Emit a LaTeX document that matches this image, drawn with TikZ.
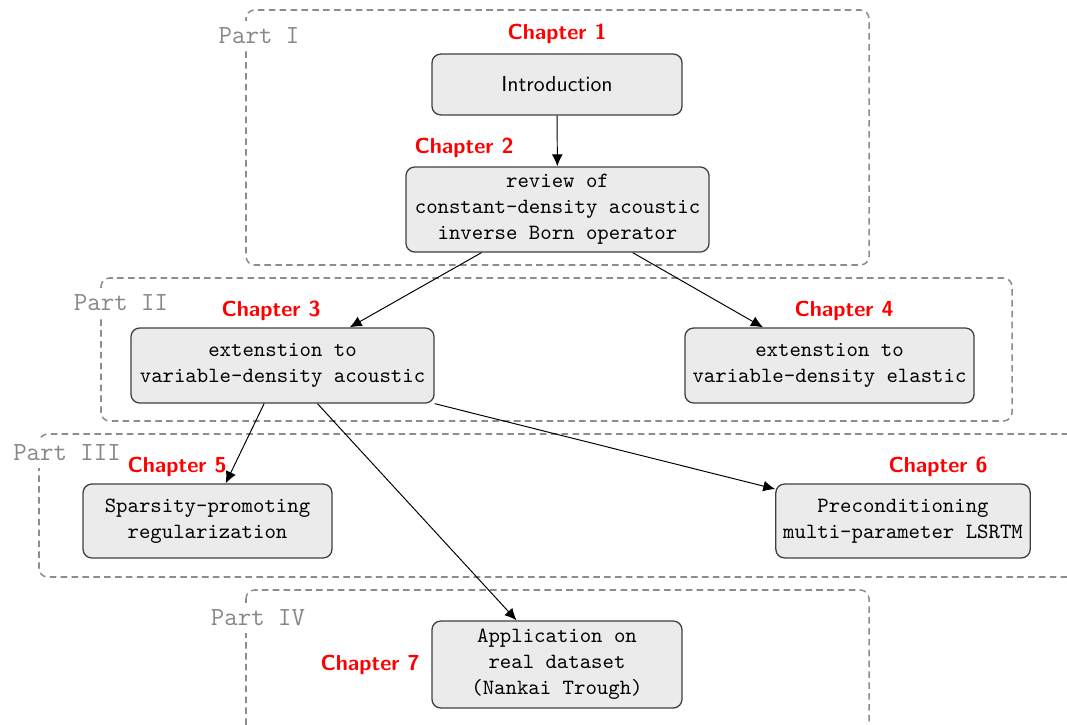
\documentclass[tikz,border=0pt]{standalone}
\usetikzlibrary{arrows.meta}
\begin{document}
\begin{tikzpicture}[x=0.46pt,y=-0.46pt,
 part/.style={draw=black!45, line width=0.7pt, dash pattern=on 3pt off 2pt, rounded corners=4pt},
 partlabel/.style={fill=white, text=black!47, font=\large\ttfamily},
 chap/.style={text=red, font=\sffamily\bfseries, anchor=base},
 box/.style={draw=black!75, line width=0.6pt, fill=black!8, rounded corners=4pt, align=center, font=\ttfamily, inner sep=2pt},
 arr/.style={-{Latex[length=5.5pt,width=5pt]}, line width=0.45pt}]
\useasboundingbox (0,0) rectangle (1067,724);
\clip (0,0) rectangle (1067,724);
% part frames
\draw[part] (246,10) rectangle (869,265);
\draw[part] (101,278) rectangle (1012,421);
\draw[part] (39,434) rectangle (1100,577);
\draw[part] (246,590) rectangle (869,760);
\node[partlabel] (p1) at (259,36) {Part I};
\node[partlabel] (p2) at (121,303) {Part II};
\node[partlabel] (p3) at (67,453) {Part III};
\node[partlabel] (p4) at (258,618) {Part IV};
% chapter nodes
\node[box, font=\sffamily, minimum width=115pt, minimum height=28pt] (intro) at (557,84.5) {Introduction};
\node[box, minimum width=139.4pt, minimum height=39.1pt] (review) at (557.5,209.5) {review of\\constant-density acoustic\\inverse Born operator};
\node[box, minimum width=139.4pt, minimum height=34.5pt] (extA) at (282.5,365.5) {extenstion to\\variable-density acoustic};
\node[box, minimum width=133pt, minimum height=34.5pt] (extB) at (829.5,365.5) {extenstion to\\variable-density elastic};
\node[box, minimum width=114.5pt, minimum height=34pt] (sparse) at (207.5,521) {Sparsity-promoting\\regularization};
\node[box, minimum width=117pt, minimum height=34pt] (precond) at (903,521) {Preconditioning\\multi-parameter LSRTM};
\node[box, minimum width=115pt, minimum height=40pt] (app) at (557,664.5) {Application on\\real dataset\\(Nankai Trough)};
% chapter labels
\node[chap] (c1) at (557,40) {Chapter 1};
\node[chap] (c2) at (464,153) {Chapter 2};
\node[chap] (c3) at (271,316) {Chapter 3};
\node[chap] (c4) at (844,316) {Chapter 4};
\node[chap] (c5) at (177,472) {Chapter 5};
\node[chap] (c6) at (938,472) {Chapter 6};
\node[chap] (c7) at (370,670) {Chapter 7};
% connectors
\draw[arr] (intro) -- (review);
\draw[arr] (review) -- (extA);
\draw[arr] (review) -- (extB);
\draw[arr] (extA) -- (sparse);
\draw[arr] (extA) -- (app);
\draw[arr] (extA) -- (precond);
\end{tikzpicture}
\end{document}
